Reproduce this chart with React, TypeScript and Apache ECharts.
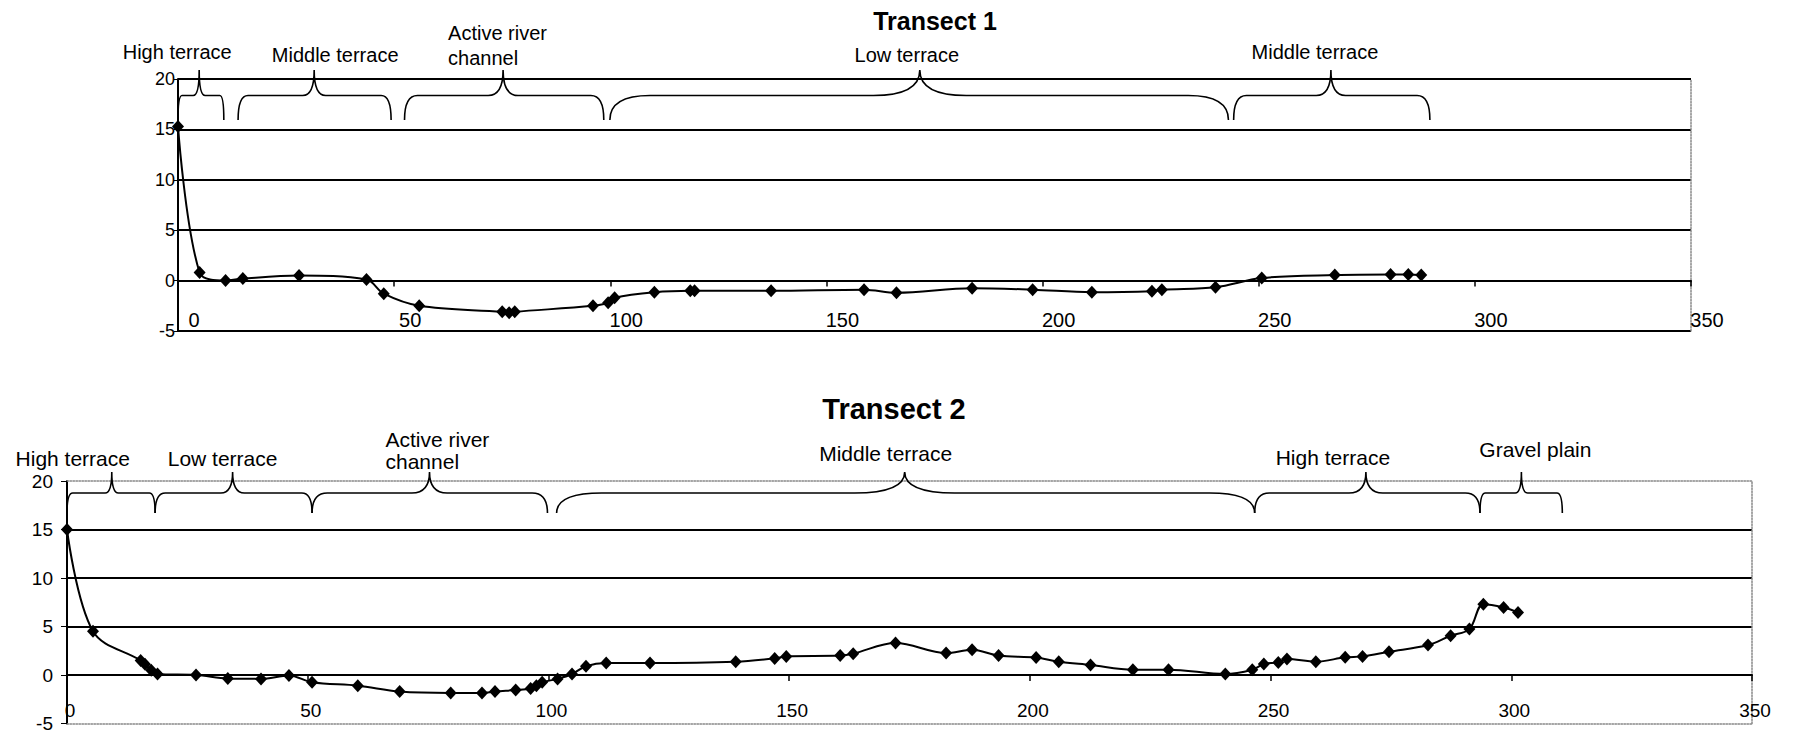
import React, { useEffect, useRef } from 'react';
import * as echarts from 'echarts';

// ---------- Transect 1 ----------
const t1X = [0, 5, 11, 15, 28, 43.6, 47.6, 55.8, 75, 76.6, 77.9, 96, 99.5, 101, 110.2, 118.5, 119.5, 137.2, 158.7, 166.2, 183.7, 197.7, 211.4, 225.3, 227.6, 240, 250.7, 267.6, 280.5, 284.6, 287.6];
const t1Y = [15.3, 0.8, 0, 0.2, 0.5, 0.1, -1.3, -2.5, -3.1, -3.2, -3.1, -2.5, -2.2, -1.7, -1.15, -1.0, -1.0, -1.0, -0.9, -1.2, -0.75, -0.9, -1.15, -1.05, -0.9, -0.65, 0.25, 0.55, 0.6, 0.6, 0.55];
const t1BraceStart = [0, 13.9, 52.4, 99.9, 244.2];
const t1BraceEnd = [10.6, 49.3, 98.5, 243, 289.6];
const t1BracePeak = [4.9, 31.5, 75.2, 171.6, 266.7];
const t1Labels = ['High terrace', 'Middle terrace', 'Active river\nchannel', 'Low terrace', 'Middle terrace'];

// ---------- Transect 2 ----------
const t2X = [0, 5.4, 15.3, 16.2, 17.5, 18.8, 26.8, 33.4, 40.3, 46.1, 50.9, 60.4, 69.1, 79.7, 86.2, 88.9, 93.2, 96.3, 97.5, 98.7, 101.9, 104.9, 107.8, 112, 121.1, 138.9, 147, 149.4, 160.6, 163.3, 172.1, 182.6, 188, 193.5, 201.3, 206, 212.6, 221.4, 228.8, 240.6, 246.2, 248.6, 251.6, 253.4, 259.4, 265.5, 269.1, 274.6, 282.7, 287.4, 291.3, 294.2, 298.4, 301.4];
const t2Y = [15, 4.5, 1.5, 1.1, 0.5, 0.1, 0, -0.35, -0.4, -0.05, -0.75, -1.1, -1.7, -1.85, -1.85, -1.7, -1.55, -1.4, -1.1, -0.75, -0.4, 0.1, 0.9, 1.23, 1.23, 1.37, 1.71, 1.92, 2.0, 2.2, 3.3, 2.26, 2.6, 2.0, 1.8, 1.37, 1.03, 0.55, 0.55, 0.1, 0.55, 1.13, 1.3, 1.65, 1.37, 1.82, 1.92, 2.4, 3.09, 4.05, 4.73, 7.3, 6.96, 6.45];
const t2BraceStart = [0, 18.3, 50.9, 101.7, 246.7, 293.5];
const t2BraceEnd = [18.3, 50.9, 99.8, 246.7, 293.5, 310.6];
const t2BracePeak = [9.3, 34.4, 75.3, 174, 269.8, 302.1];
const t2Labels = ['High terrace', 'Low terrace', 'Active river\nchannel', 'Middle terrace', 'High terrace', 'Gravel plain'];

// axis ticks
const xMin = 0, xMax = 350, xStep = 50;
const yMin = -5, yMax = 20, yStep = 5;

const FONT = '"Liberation Sans", Arial, sans-serif';

// label placement (style, pixels relative to brace peak / top line)
const t1Geo = {
  line: 16.5, end: 41, peak: -9, fontSize: 20, lineHeight: 25,
  dx: [-22, 21, -55, -13, -16],
  dy: [-27, -24, -34, -24, -27],
  align: ['center', 'center', 'left', 'center', 'center'],
};
const t2Geo = {
  line: 12, end: 32, peak: -9, fontSize: 21, lineHeight: 22,
  dx: [-39, -10, -44, -19, -33, 14],
  dy: [-23, -23, -31, -28, -24, -32],
  align: ['center', 'center', 'left', 'center', 'center', 'center'],
};

function braceRenderer(labels: string[], geo: any) {
  return function (params: any, api: any) {
    const i = params.dataIndex;
    const top = api.coord([0, yMax])[1];
    const x0 = api.coord([api.value(0), yMax])[0];
    const x1 = api.coord([api.value(1), yMax])[0];
    const xp = api.coord([api.value(2), yMax])[0];
    const yl = top + geo.line, ye = top + geo.end, yp = top + geo.peak;
    const w = x1 - x0;
    const ew = Math.max(4, Math.min(45, w * 0.065));
    const pw = Math.max(6, Math.min(50, w * 0.075));
    const d = `M${x0} ${ye} Q${x0} ${yl} ${x0 + ew} ${yl} L${xp - pw} ${yl} Q${xp} ${yl} ${xp} ${yp} Q${xp} ${yl} ${xp + pw} ${yl} L${x1 - ew} ${yl} Q${x1} ${yl} ${x1} ${ye}`;
    return {
      type: 'group',
      children: [
        { type: 'path', shape: { pathData: d }, style: { stroke: '#000', fill: 'none', lineWidth: 1.6 } },
        {
          type: 'text', x: xp + geo.dx[i], y: top + geo.dy[i],
          style: {
            text: labels[i], textAlign: geo.align[i], textVerticalAlign: 'middle',
            fontSize: geo.fontSize, fontFamily: FONT, fill: '#000', lineHeight: geo.lineHeight,
          },
        },
      ],
    };
  };
}

export default function App() {
  const ref = useRef<HTMLDivElement>(null);
  useEffect(() => {
    document.body.style.margin = '0';
    const chart = echarts.init(ref.current!, null, { renderer: 'svg' });
    const mainX = (grid: number, fs: number, margin: number, pad: number) => ({
      type: 'value', gridIndex: grid, min: xMin, max: xMax, interval: xStep,
      axisLine: { show: true, onZero: true, lineStyle: { color: '#000', width: 2 } },
      axisTick: { show: true, inside: false, length: 6, lineStyle: { color: '#000', width: 1.5 } },
      axisLabel: { show: true, fontSize: fs, fontFamily: FONT, color: '#000', margin, padding: [0, 0, 0, pad], showMinLabel: true, showMaxLabel: true },
      splitLine: { show: false },
    });
    const borderAxisX = (grid: number, position: string) => ({
      type: 'value', gridIndex: grid, min: xMin, max: xMax, position,
      axisLine: { show: true, onZero: false, lineStyle: { color: '#888', width: 1.5, type: 'dotted' } },
      axisTick: { show: false }, axisLabel: { show: false }, splitLine: { show: false },
    });
    const borderAxisY = (grid: number) => ({
      type: 'value', gridIndex: grid, min: yMin, max: yMax, position: 'right',
      axisLine: { show: true, onZero: false, lineStyle: { color: '#888', width: 1.5, type: 'dotted' } },
      axisTick: { show: false }, axisLabel: { show: false }, splitLine: { show: false },
    });
    const option: any = {
      animation: false,
      backgroundColor: '#fff',
      graphic: [
        { type: 'text', x: 935, y: 21, style: { text: 'Transect 1', textAlign: 'center', textVerticalAlign: 'middle', fontSize: 25, fontWeight: 'bold', fontFamily: FONT, fill: '#000' } },
        { type: 'text', x: 894, y: 409, style: { text: 'Transect 2', textAlign: 'center', textVerticalAlign: 'middle', fontSize: 29, fontWeight: 'bold', fontFamily: FONT, fill: '#000' } },
      ],
      grid: [
        { left: 178, top: 79, width: 1513, height: 252, containLabel: false },
        { left: 67, top: 481, width: 1685, height: 243, containLabel: false },
      ],
      xAxis: [
        mainX(0, 20, -21, 32),
        mainX(1, 19, -23, 6),
        borderAxisX(1, 'bottom'),
        borderAxisX(1, 'top'),
      ],
      yAxis: [
        {
          type: 'value', gridIndex: 0, min: yMin, max: yMax, interval: yStep,
          axisLine: { show: true, onZero: false, lineStyle: { color: '#000', width: 2 } },
          axisTick: { show: true, length: 4, lineStyle: { color: '#000' } },
          axisLabel: { fontSize: 18, fontFamily: FONT, color: '#000', margin: 3, padding: [14, 0, 0, 0] },
          splitLine: { show: true, lineStyle: { color: '#000', width: 2 } },
        },
        {
          type: 'value', gridIndex: 1, min: yMin, max: yMax, interval: yStep,
          axisLine: { show: true, onZero: false, lineStyle: { color: '#000', width: 2 } },
          axisTick: { show: true, length: 6, lineStyle: { color: '#000' } },
          axisLabel: { fontSize: 19, fontFamily: FONT, color: '#000', margin: 14 },
          splitLine: { show: true, showMinLine: false, showMaxLine: false, lineStyle: { color: '#000', width: 2 } },
        },
        borderAxisY(0),
        borderAxisY(1),
      ],
      series: [
        {
          type: 'line', xAxisIndex: 0, yAxisIndex: 0, z: 5,
          data: t1X.map((x, i) => [x, t1Y[i]]),
          smooth: 0.35, symbol: 'diamond', symbolSize: [12, 13],
          itemStyle: { color: '#000' }, lineStyle: { color: '#000', width: 2 },
        },
        {
          type: 'line', xAxisIndex: 1, yAxisIndex: 1, z: 5,
          data: t2X.map((x, i) => [x, t2Y[i]]),
          smooth: 0.35, symbol: 'diamond', symbolSize: [12, 13],
          itemStyle: { color: '#000' }, lineStyle: { color: '#000', width: 2 },
        },
        {
          type: 'custom', xAxisIndex: 0, yAxisIndex: 0, clip: false, silent: true, z: 6,
          data: t1BraceStart.map((s, i) => [s, t1BraceEnd[i], t1BracePeak[i]]),
          renderItem: braceRenderer(t1Labels, t1Geo),
        },
        {
          type: 'custom', xAxisIndex: 1, yAxisIndex: 1, clip: false, silent: true, z: 6,
          data: t2BraceStart.map((s, i) => [s, t2BraceEnd[i], t2BracePeak[i]]),
          renderItem: braceRenderer(t2Labels, t2Geo),
        },
      ],
    };
    chart.setOption(option);
    return () => chart.dispose();
  }, []);
  return <div ref={ref} style={{ width: 1795, height: 733, background: '#fff' }} />;
}
